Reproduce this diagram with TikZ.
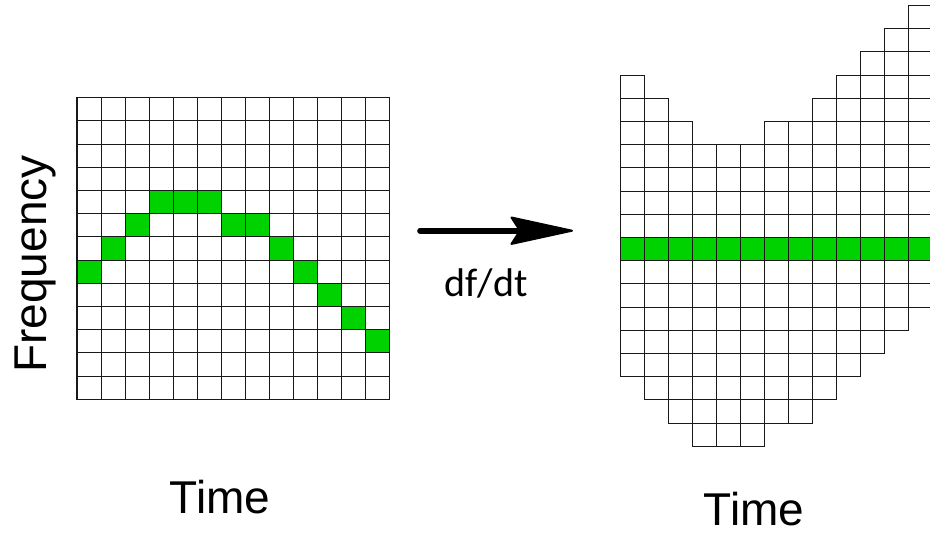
\documentclass[tikz,border=0pt]{standalone}
\usepackage{fontspec}
\setmainfont{Liberation Sans}
\newfontfamily\dffont{Carlito}
\definecolor{cellgreen}{RGB}{0,210,0}
\newcommand{\axisfont}{\fontsize{34.5}{40}\selectfont}
\newcommand{\rulefont}{\dffont\fontsize{30}{34}\selectfont}
\begin{document}
\begin{tikzpicture}[x=0.75pt,y=-0.75pt,
  cell/.style={draw=black!90, line width=0.8pt},
  axislabel/.style={font=\axisfont, inner sep=0pt},
  ratelabel/.style={font=\rulefont, inner sep=0pt},
  shaft/.style={line width=4.2pt, line cap=round},
  arrowhead/.style={fill=black, draw=black, line width=1.5pt, line join=round}]
\useasboundingbox (0,0) rectangle (930,533);
\clip (0,0) rectangle (930,533);

% left spectrogram: 13 x 13 cells, a rising then falling tone
\foreach \r [count=\c from 0] in {7,6,5,4,4,4,5,5,6,7,8,9,10}
  \fill[cellgreen] ({77+\c*24.05},{97.7+\r*23.2}) rectangle ++(24.05,23.2);
\foreach \c in {0,...,12}
  \foreach \k in {0,...,12}
    \draw[cell] ({77+\c*24.05},{97.7+\k*23.2}) rectangle ++(24.05,23.2);

% right spectrogram: each column shifted so the tone lies on one row
\foreach \r [count=\c from 0] in {7,6,5,4,4,4,5,5,6,7,8,9,10}
  \fill[cellgreen] ({620.3+\c*24},237.5) rectangle ++(24,23.2);
\foreach \r [count=\c from 0] in {7,6,5,4,4,4,5,5,6,7,8,9,10}
  \foreach \k in {0,...,12}
    \draw[cell] ({620.3+\c*24},{237.5+(\k-\r)*23.2}) rectangle ++(24,23.2);

% axis labels
\node[axislabel, rotate=90, anchor=base] (freq) at (46,264) {Frequency};
\node[axislabel, anchor=base] (timeL) at (220,513.3) {Time};
\node[axislabel, anchor=base] (timeR) at (754,525) {Time};

% transformation arrow: round-capped shaft and a swept-back head
\coordinate (arrowStart) at (420,230.7);
\coordinate (arrowNotch) at (520,230.7);
\coordinate (arrowEnd) at (572,230.7);
\draw[shaft] (arrowStart) -- (arrowNotch);
\filldraw[arrowhead] (arrowEnd) -- (511.5,217.5) -- (arrowNotch) -- (511.5,243.9) -- cycle;
\node[ratelabel, anchor=base] (rate) at (486,296.7) {df/dt};
\end{tikzpicture}
\end{document}
